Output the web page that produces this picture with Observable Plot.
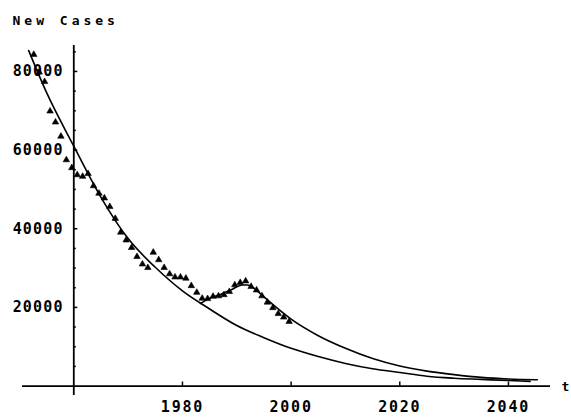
<!DOCTYPE html>
<html>
<head>
<meta charset="utf-8">
<script src="https://cdn.jsdelivr.net/npm/d3@7"></script>
<script src="https://cdn.jsdelivr.net/npm/@observablehq/plot@0.6"></script>
<style>
  html, body { margin: 0; padding: 0; background: #fff; }
  #chart svg { display: block; }
</style>
</head>
<body>
<div id="chart"></div>
<script>
// Observed new cases (triangles)
const years = [1953,1954,1955,1956,1957,1958,1959,1960,1961,1962,1963,1964,1965,1966,1967,1968,1969,1970,
  1971,1972,1973,1974,1975,1976,1977,1978,1979,1980,1981,1982,1983,1984,1985,1986,1987,1988,1989,1990,
  1991,1992,1993,1994,1995,1996,1997,1998,1999,2000];
const cases = [84300,79800,77400,69900,67100,63500,57500,55500,53700,53300,54000,50900,49000,47800,45600,42600,39100,37100,
  35200,32900,31000,30100,34000,32100,30100,28500,27700,27700,27400,25500,23800,22300,22200,22800,22900,23200,24000,25700,
  26300,26700,25300,24400,22900,21300,19900,18400,17500,16400];

// Model curve 1 (smooth decay)
const fitYears = [1951.7,1955,1960,1965,1970,1975,1980,1985,1990,1995,2000,2005,2010,2015,2020,2025,2030,2035,2040,2044];
const fitCases = [85300,74600,61000,48000,37500,30200,24200,19600,15400,12300,9600,7500,5750,4400,3450,2500,2000,1700,1400,1200];

// Model curve 2 (with late-80s resurgence)
const bumpYears = [1983.3,1985,1987,1989,1991,1992,1993,1995,1997,2000,2005,2010,2015,2020,2025,2030,2035,2040,2045.3];
const bumpCases = [21000,22300,23300,24500,25700,25700,25000,22700,20300,17000,12800,9600,7000,5100,3800,2900,2200,1800,1600];

const xTicks = [1980, 2000, 2020, 2040];
const yTicks = [20000, 40000, 60000, 80000];
const yMinor = [5000,10000,15000,25000,30000,35000,45000,50000,55000,65000,70000,75000,85000];

const obs = years.map((y, i) => ({year: y, value: cases[i]}));
const fit = fitYears.map((y, i) => ({year: y, value: fitCases[i]}));
const bump = bumpYears.map((y, i) => ({year: y, value: bumpCases[i]}));

const font = "'DejaVu Sans Mono', monospace";

const chart = Plot.plot({
  width: 571,
  height: 417,
  marginLeft: 22,
  marginRight: 21,
  marginTop: 45,
  marginBottom: 22,
  x: {domain: [1950.56, 2047.74], axis: null},
  y: {domain: [-2400, 86600], axis: null},
  style: {background: "#fff", fontFamily: font},
  marks: [
    // axes lines
    Plot.ruleY([0], {stroke: "#000", strokeWidth: 1.8}),
    Plot.ruleX([1960], {stroke: "#000", strokeWidth: 1.8}),
    // y ticks
    Plot.ruleY(yTicks, {y: d => d, x1: 1960, x2: 1960, insetRight: -4, stroke: "#000", strokeWidth: 1.5}),
    Plot.ruleY(yMinor, {y: d => d, x1: 1960, x2: 1960, insetRight: -2.5, stroke: "#000", strokeWidth: 1.5}),
    // x ticks
    Plot.ruleX(xTicks, {x: d => d, y1: 0, y2: 0, insetTop: -4, stroke: "#000", strokeWidth: 1.5}),
    // tick labels
    Plot.text(yTicks, {x: 1960, y: d => d, text: d => String(d), textAnchor: "end", dx: -10,
      fontSize: 15, fontWeight: "bold", fill: "#000"}),
    Plot.text(xTicks, {x: d => d, y: 0, text: d => String(d), dy: 21,
      fontSize: 15, fontWeight: "bold", fill: "#000"}),
    Plot.text(["t"], {x: 2047.74, y: 0, text: d => d, textAnchor: "start", dx: 11, dy: 1,
      fontSize: 13, fontWeight: "bold", fill: "#000"}),
    Plot.text(["New Cases"], {frameAnchor: "top-left", text: d => d, textAnchor: "start", dx: -10, dy: -30,
      fontSize: 13, fontWeight: "bold", fill: "#000"}),
    // model curves
    Plot.line(fit, {x: "year", y: "value", stroke: "#000", strokeWidth: 1.6, curve: "monotone-x"}),
    Plot.line(bump, {x: "year", y: "value", stroke: "#000", strokeWidth: 1.6, curve: "monotone-x"}),
    // observed data
    Plot.dot(obs, {x: "year", y: "value", symbol: "triangle", r: 2.4, fill: "#000", stroke: "#000", strokeWidth: 0.6, dx: -2})
  ]
});

// letter spacing on tick labels and title to mimic the wide bitmap font
chart.querySelectorAll("text").forEach(t => {
  const s = t.textContent;
  if (s === "New Cases") t.setAttribute("letter-spacing", "4");
  else if (/^\d{4}$/.test(s)) t.setAttribute("letter-spacing", "1.8");
  else if (/^\d{5}$/.test(s)) t.setAttribute("letter-spacing", "1.2");
});
document.getElementById("chart").appendChild(chart);
</script>
</body>
</html>
